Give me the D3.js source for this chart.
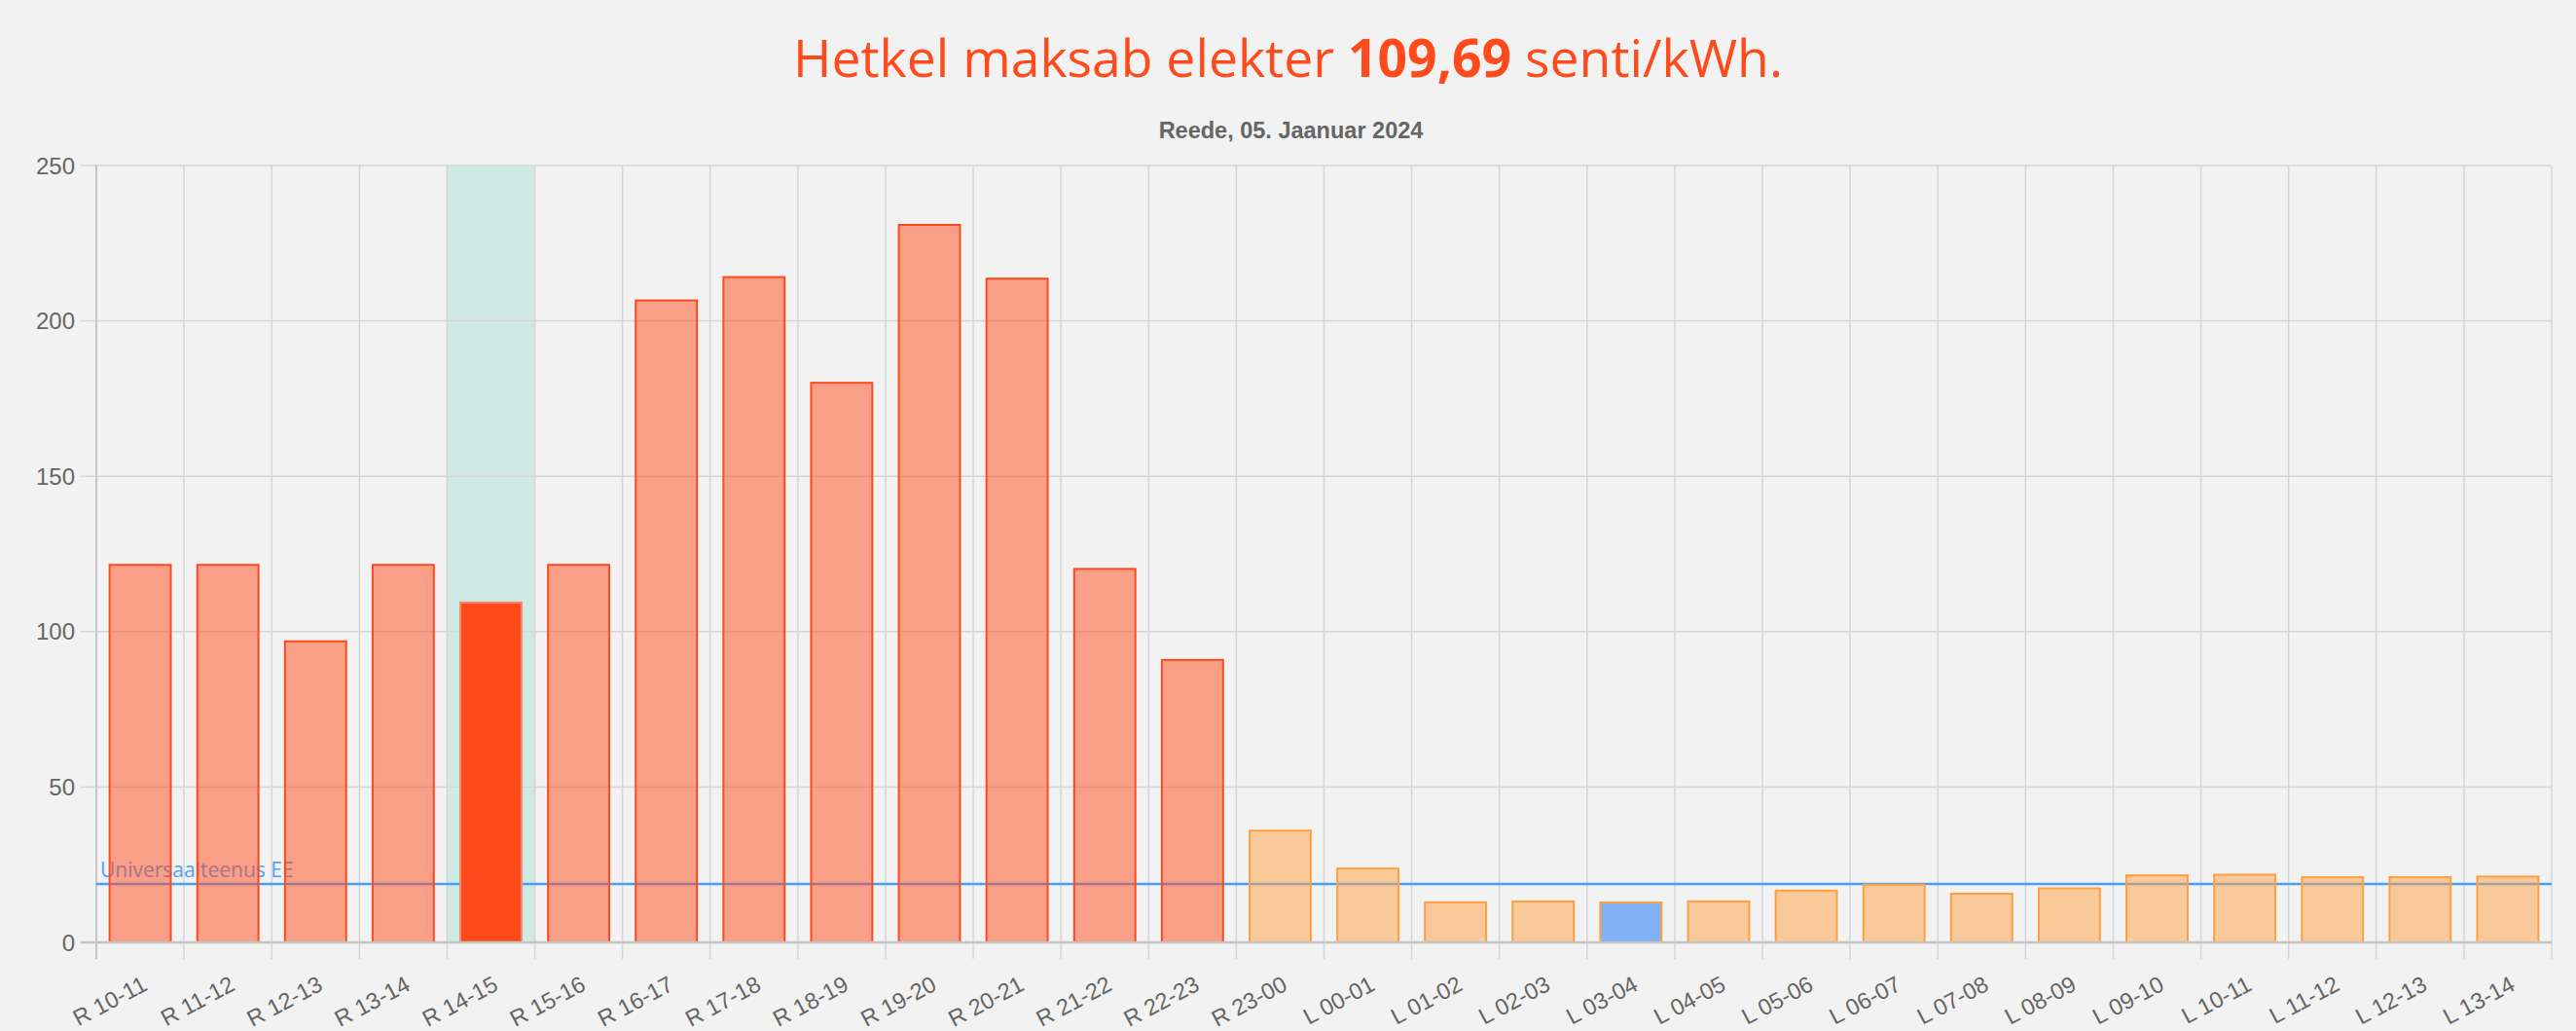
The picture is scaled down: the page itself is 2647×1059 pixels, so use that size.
<!DOCTYPE html>
<html>
<head>
<meta charset="utf-8">
<script src="https://cdn.jsdelivr.net/npm/d3@7"></script>
<style>
  html, body { margin: 0; padding: 0; background: #f2f2f2; }
  svg { display: block; }
</style>
</head>
<body>
<svg id="chart" width="2647" height="1059"></svg>
<script>
// ---- data ----
const labels = ["R 10-11","R 11-12","R 12-13","R 13-14","R 14-15","R 15-16","R 16-17","R 17-18","R 18-19","R 19-20","R 20-21","R 21-22","R 22-23","R 23-00","L 00-01","L 01-02","L 02-03","L 03-04","L 04-05","L 05-06","L 06-07","L 07-08","L 08-09","L 09-10","L 10-11","L 11-12","L 12-13","L 13-14"];
const prices = [121.8,121.8,97.2,121.8,109.69,121.8,206.9,214.4,180.4,231.2,213.9,120.5,91.2,36.3,24.1,13.2,13.5,13.15,13.5,17.0,18.9,16.0,17.7,21.9,22.1,21.3,21.3,21.5];
const tariffs = ["päev","päev","päev","päev","päev","päev","päev","päev","päev","päev","päev","päev","päev","öö","öö","öö","öö","öö","öö","öö","öö","öö","öö","öö","öö","öö","öö","öö"];
const currentLabel = "R 14-15";
const cheapestLabel = "L 03-04";
const universalPrice = 18.8;
const universalLabel = "Universaalteenus EE";
const yTicks = [0,50,100,150,200,250];
const titleParts = ["Hetkel maksab elekter ", "109,69", " senti/kWh."];
const subtitle = "Reede, 05. Jaanuar 2024";

(function () {
// ---- layout ----
const W = 2647, H = 1059;
const pLeft = 99, pRight = 2622, pTop = 170, pBottom = 968;
const svg = d3.select("#chart");
const FONT = "'Liberation Sans', Arial, Helvetica, sans-serif";

const x = d3.scaleBand().domain(labels).range([pLeft, pRight]).paddingInner(0.28).paddingOuter(0.14);
const step = x.step();
const y = d3.scaleLinear().domain([0, 250]).range([pBottom, pTop]);
const gap = (step - x.bandwidth()) / 2;

// title
const t = svg.append("text")
  .attr("x", W / 2).attr("y", 79)
  .attr("text-anchor", "middle")
  .attr("fill", "#ff4a1c")
  .style("font-family", "'Open Sans', 'Noto Sans', sans-serif")
  .style("font-size", "53.5px");
t.append("tspan").text(titleParts[0]);
t.append("tspan").style("font-weight", "bold").text(titleParts[1]);
t.append("tspan").text(titleParts[2]);

svg.append("text")
  .attr("x", W / 2 + 3).attr("y", 142)
  .attr("text-anchor", "middle")
  .attr("fill", "#666")
  .style("font-family", FONT)
  .style("font-weight", "bold")
  .style("font-size", "23.5px")
  .text(subtitle);

// current hour band
svg.append("rect")
  .attr("x", x(currentLabel) - gap)
  .attr("width", step)
  .attr("y", pTop).attr("height", pBottom - pTop)
  .attr("fill", "#cfeae5");

// horizontal gridlines
svg.append("g").selectAll("line").data(yTicks.filter(d => d > 0)).join("line")
  .attr("x1", pLeft - 16).attr("x2", pRight)
  .attr("y1", d => y(d)).attr("y2", d => y(d))
  .attr("stroke", "#d6d6d6").attr("stroke-width", 1.5);

// vertical gridlines (category boundaries)
const bounds = labels.map(l => x(l) - gap);
bounds.push(pRight);
svg.append("g").selectAll("line").data(bounds).join("line")
  .attr("x1", d => d).attr("x2", d => d)
  .attr("y1", pTop).attr("y2", pBottom + 17)
  .attr("stroke", (d, i) => i === 0 ? "#c6c6c6" : "#d6d6d6")
  .attr("stroke-width", (d, i) => i === 0 ? 2 : 1.5);

// y tick labels
svg.append("g").selectAll("text").data(yTicks).join("text")
  .attr("x", 77).attr("y", d => y(d))
  .attr("text-anchor", "end")
  .attr("dominant-baseline", "central")
  .attr("fill", "#666")
  .style("font-family", FONT)
  .style("font-size", "24px")
  .text(d => d);

// x tick labels
svg.append("g").selectAll("text").data(labels).join("text")
  .attr("transform", d => `translate(${x(d) + x.bandwidth() / 2 + 5},${1009}) rotate(-28)`)
  .attr("text-anchor", "end")
  .attr("dominant-baseline", "central")
  .attr("fill", "#666")
  .style("font-family", FONT)
  .style("font-size", "23.5px")
  .text(d => d);

// universal service line + label (under bars)
svg.append("line")
  .attr("x1", pLeft).attr("x2", pRight)
  .attr("y1", y(universalPrice)).attr("y2", y(universalPrice))
  .attr("stroke", "#44a0f8").attr("stroke-width", 2.5);
svg.append("text")
  .attr("x", pLeft + 4).attr("y", y(universalPrice) - 7)
  .attr("fill", "#4ea3f5")
  .style("font-family", "'Open Sans', 'Noto Sans', sans-serif")
  .style("font-size", "21px")
  .text(universalLabel);

// bars
const bars = labels.map((l, i) => ({ label: l, value: prices[i], tariff: tariffs[i] }));
function fillOf(d) {
  if (d.label === currentLabel) return "#ff4a1c";
  if (d.label === cheapestLabel) return "#80b1f6";
  return d.tariff === "päev" ? "rgba(255,74,28,0.5)" : "rgba(255,159,64,0.5)";
}
function strokeOf(d) {
  if (d.label === currentLabel) return "#f8876a";
  return d.tariff === "päev" ? "#ff4a1c" : "#ff9f40";
}
svg.append("g").selectAll("rect").data(bars).join("rect")
  .attr("x", d => x(d.label) + 1)
  .attr("width", x.bandwidth() - 2)
  .attr("y", d => y(d.value) + 1)
  .attr("height", d => pBottom - y(d.value) - 1)
  .attr("fill", fillOf)
  .attr("stroke", strokeOf)
  .attr("stroke-width", 2);

// zero axis line
svg.append("line")
  .attr("x1", pLeft - 16).attr("x2", pRight)
  .attr("y1", pBottom).attr("y2", pBottom)
  .attr("stroke", "#c4c4c4").attr("stroke-width", 2.5);
})();
</script>
</body>
</html>
